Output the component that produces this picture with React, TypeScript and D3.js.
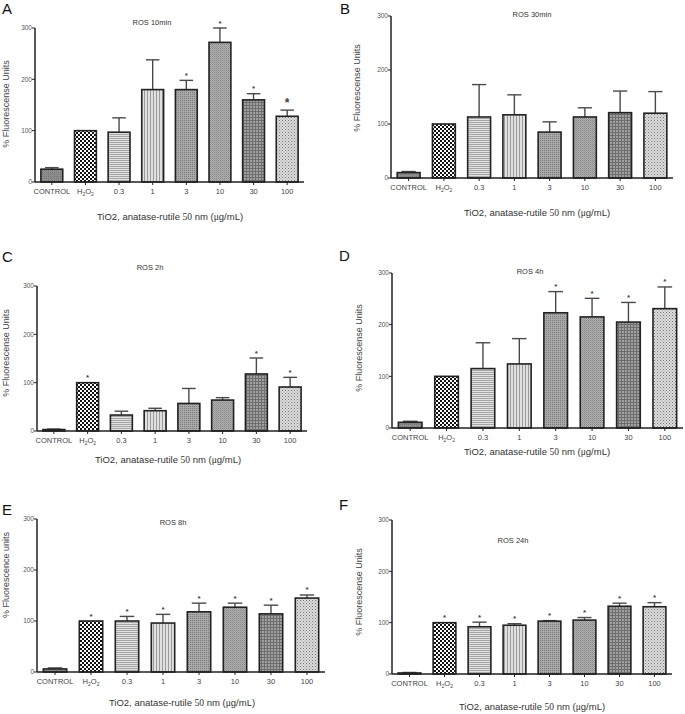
import React from "react";
import * as d3 from "d3";

const categories = ["CONTROL", "H2O2", "0.3", "1", "3", "10", "30", "100"];
const yTicks = [0, 100, 200, 300];

const meansA = [25, 100, 97, 180, 180, 272, 160, 128];
const errA = [3, 0, 28, 58, 18, 28, 12, 12];
const starsA = [0, 0, 0, 0, 1, 1, 1, 2];

const meansB = [10, 100, 113, 117, 85, 113, 121, 120];
const errB = [2, 0, 60, 37, 19, 17, 40, 40];
const starsB = [0, 0, 0, 0, 0, 0, 0, 0];

const meansC = [3, 100, 33, 42, 57, 64, 118, 91];
const errC = [1, 0, 8, 5, 31, 5, 33, 20];
const starsC = [0, 1, 0, 0, 0, 0, 1, 1];

const meansD = [11, 100, 115, 124, 223, 215, 205, 231];
const errD = [2, 0, 50, 49, 41, 36, 38, 42];
const starsD = [0, 0, 0, 0, 1, 1, 1, 1];

const meansE = [6, 100, 100, 96, 118, 127, 114, 145];
const errE = [2, 0, 9, 17, 17, 8, 17, 6];
const starsE = [0, 1, 1, 1, 1, 1, 1, 1];

const meansF = [2, 100, 92, 95, 103, 105, 132, 131];
const errF = [1, 0, 9, 3, 1, 5, 6, 8];
const starsF = [0, 1, 1, 1, 1, 1, 1, 1];

const titles = ["ROS 10min", "ROS  30min", "ROS 2h", "ROS  4h", "ROS 8h", "ROS  24h"];
const letters = ["A", "B", "C", "D", "E", "F"];
const yLabels = [
  "% Fluorescense Units",
  "% Fluorescense Units",
  "% Fluorescense Units",
  "% Fluorescense Units",
  "% Fluorescence units",
  "% Fluorescense Units",
];

const seriesMeans = [meansA, meansB, meansC, meansD, meansE, meansF];
const seriesErr = [errA, errB, errC, errD, errE, errF];
const seriesStars = [starsA, starsB, starsC, starsD, starsE, starsF];

// layout per panel
const layouts = [
  { ax: 35, xEnd: 304, y0: 182, yTop: 28, lx: 2, ly: 14, tx: 152, ty: 25, xtx: 170, xty: 220, ylx: 9, yly: 104 },
  { ax: 391, xEnd: 673, y0: 178, yTop: 16, lx: 340, ly: 14, tx: 532, ty: 17, xtx: 537, xty: 216, ylx: 360, yly: 88 },
  { ax: 37, xEnd: 307, y0: 431, yTop: 286, lx: 2, ly: 262, tx: 150, ty: 270, xtx: 168, xty: 463, ylx: 9, yly: 353 },
  { ax: 392, xEnd: 683, y0: 428, yTop: 273, lx: 339, ly: 261, tx: 530, ty: 274, xtx: 537, xty: 455, ylx: 362, yly: 348 },
  { ax: 37, xEnd: 325, y0: 672, yTop: 519, lx: 2, ly: 515, tx: 173, ty: 525, xtx: 182, xty: 706, ylx: 9, yly: 575 },
  { ax: 392, xEnd: 672, y0: 674, yTop: 520, lx: 339, ly: 510, tx: 513, ty: 543, xtx: 532, xty: 710, ylx: 362, yly: 592 },
];

const fills = ["url(#pCtrl)", "url(#pChk)", "url(#pHor)", "url(#pVer)", "url(#pDot)", "url(#pMesh)", "url(#pGrid)", "url(#pLight)"];

function Panel({ idx }: { idx: number }) {
  const L = layouts[idx];
  const means = seriesMeans[idx];
  const errs = seriesErr[idx];
  const stars = seriesStars[idx];
  const x = d3.scaleBand<string>().domain(categories).range([L.ax, L.xEnd]).paddingInner(0.35).paddingOuter(0.175);
  const y = d3.scaleLinear().domain([0, 300]).range([L.y0, L.yTop]);
  const bw = x.bandwidth();
  const capW = bw * 0.62;
  const sans = "Liberation Sans, Arial, sans-serif";
  return (
    <g>
      <text x={L.lx} y={L.ly} fontFamily={sans} fontSize={15} fill="#111">{letters[idx]}</text>
      <text x={L.tx} y={L.ty} fontFamily={sans} fontSize={7.5} fill="#333" textAnchor="middle">{titles[idx]}</text>
      <text transform={`translate(${L.ylx},${L.yly}) rotate(-90)`} fontFamily={sans} fontSize={9} fill="#444" textAnchor="middle">{yLabels[idx]}</text>
      {categories.map((c, i) => {
        const cx = (x(c) as number) + bw / 2;
        const top = y(means[i]);
        const capY = y(means[i] + errs[i]);
        const big = stars[i] === 2;
        return (
          <g key={c}>
            {errs[i] > 0 && (
              <g stroke="#4a4a4a" strokeWidth={1.4}>
                <line x1={cx} x2={cx} y1={top} y2={capY} />
                <line x1={cx - capW / 2} x2={cx + capW / 2} y1={capY} y2={capY} />
              </g>
            )}
            <rect x={x(c)} y={top} width={bw} height={L.y0 - top} fill={fills[i]} stroke="#222" strokeWidth={1.6} />
            {stars[i] > 0 && (
              <text x={cx} y={capY - (big ? 3.5 : 2.5)} fontFamily={sans} fontSize={big ? 12 : 8} fontWeight="bold" fill="#444" textAnchor="middle">*</text>
            )}
          </g>
        );
      })}
      <line x1={L.ax} x2={L.ax} y1={L.y0} y2={L.yTop} stroke="#222" strokeWidth={1.5} />
      <line x1={L.ax} x2={L.xEnd} y1={L.y0} y2={L.y0} stroke="#222" strokeWidth={1.5} />
      {yTicks.map((t) => (
        <g key={t}>
          <line x1={L.ax - 3} x2={L.ax} y1={y(t)} y2={y(t)} stroke="#222" strokeWidth={1} />
          <text x={L.ax - 3} y={y(t)} dy="0.35em" fontFamily={sans} fontSize={6.5} fill="#555" textAnchor="end">{t}</text>
        </g>
      ))}
      {categories.map((c) => {
        const cx = (x(c) as number) + bw / 2;
        return (
          <g key={"t" + c}>
            <line x1={cx} x2={cx} y1={L.y0} y2={L.y0 + 3} stroke="#222" strokeWidth={1} />
            {c === "H2O2" ? (
              <text x={cx} y={L.y0 + 12} fontFamily={sans} fontSize={7.5} fill="#444" textAnchor="middle">
                H<tspan fontSize={5} dy={1.5}>2</tspan><tspan dy={-1.5}>O</tspan><tspan fontSize={5} dy={1.5}>2</tspan>
              </text>
            ) : (
              <text x={cx} y={L.y0 + 12} fontFamily={sans} fontSize={7.5} fill="#444" textAnchor="middle">{c}</text>
            )}
          </g>
        );
      })}
      <text x={L.xtx} y={L.xty} fontFamily={sans} fontSize={9.5} fill="#333" textAnchor="middle">
        TiO2, anatase-rutile <tspan fontFamily="Liberation Serif, serif">50</tspan> nm (<tspan fontFamily="Liberation Serif, serif">{"\u03bc"}</tspan>g/mL)
      </text>
    </g>
  );
}

export default function App() {
  return (
    <svg width={685} height={714} style={{ display: "block", position: "absolute", left: 0, top: 0 }}>
      <defs>
        <pattern id="pCtrl" width={2} height={2} patternUnits="userSpaceOnUse">
          <rect width={2} height={2} fill="#8e8e8e" />
          <rect width={1} height={1} fill="#777" />
        </pattern>
        <pattern id="pChk" width={4} height={4} patternUnits="userSpaceOnUse">
          <rect width={4} height={4} fill="#fff" />
          <rect width={2} height={2} fill="#111" />
          <rect x={2} y={2} width={2} height={2} fill="#111" />
        </pattern>
        <pattern id="pHor" width={2} height={2} patternUnits="userSpaceOnUse">
          <rect width={2} height={2} fill="#e2e2e2" />
          <rect width={2} height={1} fill="#a5a5a5" />
        </pattern>
        <pattern id="pVer" width={3} height={3} patternUnits="userSpaceOnUse">
          <rect width={3} height={3} fill="#e0e0e0" />
          <rect width={1} height={3} fill="#9a9a9a" />
        </pattern>
        <pattern id="pDot" width={2} height={2} patternUnits="userSpaceOnUse">
          <rect width={2} height={2} fill="#a8a8a8" />
          <rect width={1} height={1} fill="#7d7d7d" />
        </pattern>
        <pattern id="pMesh" width={2} height={2} patternUnits="userSpaceOnUse">
          <rect width={2} height={2} fill="#b0b0b0" />
          <rect width={1} height={1} fill="#888" />
          <rect x={1} y={1} width={1} height={1} fill="#999" />
        </pattern>
        <pattern id="pGrid" width={3} height={3} patternUnits="userSpaceOnUse">
          <rect width={3} height={3} fill="#a0a0a0" />
          <rect width={3} height={1} fill="#6e6e6e" />
          <rect width={1} height={3} fill="#6e6e6e" />
        </pattern>
        <pattern id="pLight" width={3} height={3} patternUnits="userSpaceOnUse">
          <rect width={3} height={3} fill="#dcdcdc" />
          <rect width={1} height={1} fill="#777" />
          <rect x={1.5} y={1.5} width={1} height={1} fill="#999" />
        </pattern>
      </defs>
      <rect width={685} height={714} fill="#fff" />
      {layouts.map((_, i) => (
        <Panel key={i} idx={i} />
      ))}
    </svg>
  );
}
